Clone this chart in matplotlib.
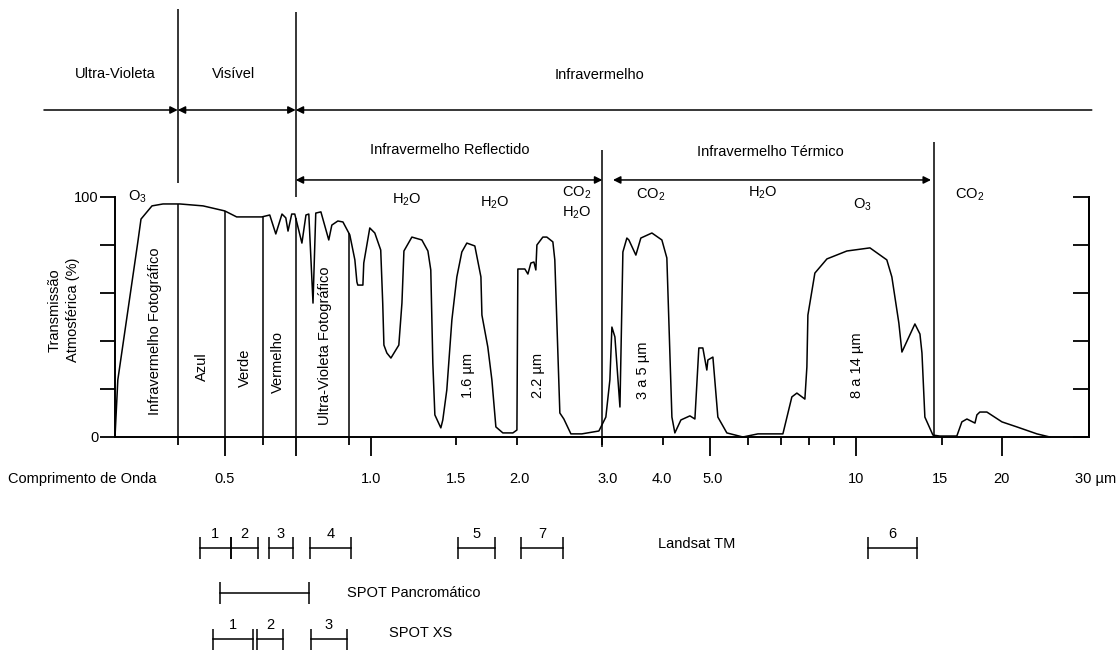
import numpy as np
import matplotlib
matplotlib.use('Agg')
import matplotlib.pyplot as plt
from matplotlib.patches import FancyArrowPatch
from matplotlib.ticker import NullFormatter

plt.rcParams['font.family'] = ['Liberation Sans', 'DejaVu Sans']
plt.rcParams['font.size'] = 10.5
plt.rcParams['mathtext.fontset'] = 'custom'
plt.rcParams['mathtext.rm'] = 'Liberation Sans'
plt.rcParams['mathtext.it'] = 'Liberation Sans'

# Transmissão atmosférica: comprimento de onda (µm) e transmissão (%)
wl = [0.297, 0.301, 0.331, 0.336, 0.354, 0.373, 0.404, 0.451, 0.500, 0.529,
      0.596, 0.619, 0.637, 0.656, 0.668, 0.675, 0.687, 0.697, 0.721, 0.735,
      0.745, 0.760, 0.770, 0.789, 0.819, 0.831, 0.855, 0.876, 0.905, 0.927,
      0.936, 0.940, 0.963, 0.967, 0.995, 1.019, 1.048, 1.058, 1.064, 1.079,
      1.100, 1.142, 1.159, 1.170, 1.215, 1.274, 1.311, 1.329, 1.342, 1.355,
      1.394, 1.407, 1.434, 1.469, 1.504, 1.540, 1.577, 1.638, 1.686, 1.694,
      1.742, 1.776, 1.810, 1.871, 1.962, 2.000, 2.009, 2.077, 2.107, 2.137,
      2.168, 2.188, 2.199, 2.262, 2.305, 2.372, 2.394, 2.452, 2.499, 2.584,
      2.722, 2.951, 3.050, 3.109, 3.139, 3.184, 3.261, 3.307, 3.370, 3.402,
      3.517, 3.601, 3.795, 3.979, 4.074, 4.173, 4.232, 4.355, 4.545, 4.654,
      4.698, 4.742, 4.833, 4.925, 4.950, 5.069, 5.190, 5.416, 5.844, 6.277,
      7.066, 7.373, 7.551, 7.843, 7.918, 7.956, 8.224, 8.708, 9.572, 10.68,
      11.57, 11.85, 12.25, 12.43, 13.22, 13.54, 13.67, 13.86, 14.40, 14.88,
      16.13, 16.52, 16.92, 17.58, 17.74, 17.99, 18.60, 19.98, 21.45, 23.59, 25.08]
trans = [0, 23.8, 81.3, 90.8, 96.3, 97.1, 97.1, 96.3, 94.2, 91.7,
         91.7, 92.5, 84.6, 92.9, 91.3, 85.8, 92.9, 92.9, 80.8, 92.5,
         92.9, 55.8, 93.3, 93.8, 82.1, 88.3, 90.0, 89.6, 84.2, 73.8,
         64.6, 63.3, 63.3, 72.5, 87.1, 85.0, 77.9, 55.8, 38.3, 35.0,
         32.9, 38.3, 55.8, 77.5, 83.3, 82.1, 77.5, 69.6, 30.8, 9.2,
         3.8, 7.1, 19.6, 48.8, 66.7, 77.1, 80.8, 79.6, 66.7, 50.8,
         37.5, 23.8, 4.2, 1.7, 1.7, 2.9, 70.0, 70.0, 67.9, 72.5,
         72.9, 69.6, 80.0, 83.3, 83.3, 81.3, 73.8, 10.0, 7.5, 1.3,
         1.3, 2.5, 8.3, 23.8, 45.8, 41.7, 12.5, 77.1, 82.9, 82.1,
         75.8, 82.9, 85.0, 82.1, 74.6, 8.3, 1.7, 7.1, 8.8, 7.5,
         22.5, 37.1, 37.1, 27.9, 32.1, 33.3, 8.3, 1.7, 0, 1.3,
         1.3, 16.7, 18.3, 15.8, 29.2, 50.8, 68.3, 74.2, 77.5, 78.8,
         73.8, 66.7, 47.5, 35.4, 47.1, 42.9, 35.0, 8.3, 0.8, 0.4,
         0.4, 6.3, 7.5, 5.8, 9.2, 10.4, 10.4, 6.3, 4.2, 1.3, 0]

# limites das bandas dentro da curva
band_edges = [0.4, 0.5, 0.6, 0.7, 0.9]
band_names = ['Infravermelho Fotográfico', 'Azul', 'Verde', 'Vermelho',
              'Ultra-Violeta Fotográfico', '1.6 µm', '2.2 µm', '3 a 5 µm', '8 a 14 µm']
band_name_x = [0.359, 0.448, 0.550, 0.643, 0.804, 1.585, 2.209, 3.636, 10.04]
band_name_y = [44.2, 29.2, 28.8, 31.2, 37.9, 25.8, 25.8, 27.9, 30.0]

# gases absorventes
gases = ['O$_3$', 'H$_2$O', 'H$_2$O', 'CO$_2$', 'H$_2$O', 'CO$_2$', 'H$_2$O', 'O$_3$', 'CO$_2$']
gas_x = [0.331, 1.186, 1.801, 2.659, 2.659, 3.777, 6.427, 10.28, 17.16]
gas_y = [100.0, 98.8, 97.5, 101.7, 93.3, 100.8, 101.7, 96.7, 100.8]

# regiões do espectro
regions = ['Ultra-Violeta', 'Visível', 'Infravermelho', 'Infravermelho Reflectido', 'Infravermelho Térmico']
region_x = [0.298, 0.522, 2.965, 1.455, 6.674]
region_y = [151.3, 151.3, 150.8, 119.6, 118.8]
row1_edges = [0.212, 0.4, 0.7, 30.6]
row2_spans = [(0.7, 3.0), (3.155, 14.27)]
top_lines_x = [0.4, 0.7, 3.0, 14.5]
top_lines_lo = [105.8, 100.0, -4.0, 0.0]
top_lines_hi = [178.3, 177.1, 119.6, 122.9]

# eixo do comprimento de onda
major_ticks = [0.5, 0.7, 1.0, 5.0, 10.0, 20.0]
minor_ticks = [0.4, 0.6, 0.9, 1.5, 2.0, 3.0, 4.0, 6.0, 7.0, 8.0, 9.0, 15.0]
wl_labels = ['0.5', '1.0', '1.5', '2.0', '3.0', '4.0', '5.0', '10', '15', '20', '30 µm']
wl_label_x = [0.5, 1.0, 1.5, 2.02, 3.07, 3.98, 5.06, 10.0, 14.9, 19.9, 31.2]

# bandas dos sensores
tm_names = ['1', '2', '3', '4', '5', '7', '6']
tm_start = [0.444, 0.515, 0.616, 0.749, 1.511, 2.038, 10.57]
tm_end = [0.515, 0.585, 0.691, 0.909, 1.801, 2.488, 13.35]
pan_start, pan_end = 0.488, 0.745
xs_names = ['1', '2', '3']
xs_start = [0.4725, 0.582, 0.752]
xs_end = [0.571, 0.659, 0.892]

fig = plt.figure(figsize=(11.18, 6.5), dpi=100)
ax = fig.add_axes([115 / 1118, 213 / 650, 974 / 1118, 240 / 650])
ax.set_xscale('log')
ax.set_xlim(0.297, 30.2)
ax.set_ylim(0, 100)
lw = 1.1

ax.plot(wl, trans, color='black', lw=lw, clip_on=False)
ax.vlines(band_edges, 0, np.interp(band_edges, wl, trans), color='black', lw=lw)

for s in ['left', 'right', 'bottom']:
    ax.spines[s].set_linewidth(1.4)
ax.spines['top'].set_visible(False)

ax.set_yticks([0, 20, 40, 60, 80, 100])
ax.set_yticklabels(['0', '', '', '', '', '100'])
ax.tick_params(axis='y', direction='out', length=10.8, width=1.3, pad=1, labelsize=10.5)
sec = ax.secondary_yaxis('right')
sec.set_yticks([0, 20, 40, 60, 80, 100])
sec.tick_params(direction='in', length=11.5, width=1.3, labelright=False)
sec.spines['right'].set_linewidth(1.4)

ax.set_xticks(major_ticks)
ax.set_xticks(minor_ticks, minor=True)
ax.xaxis.set_major_formatter(NullFormatter())
ax.xaxis.set_minor_formatter(NullFormatter())
ax.tick_params(axis='x', which='major', direction='out', length=13.7, width=1.3)
ax.tick_params(axis='x', which='minor', direction='out', length=5.8, width=1.3)

for lab, x in zip(wl_labels, wl_label_x):
    ax.text(x, -17.5, lab, ha='center', va='center')
ax.text(0.1786, -17.5, 'Comprimento de Onda', ha='left', va='center')
ax.text(0.233, 52.9, 'Transmissão\nAtmosférica (%)', rotation=90, ha='center', va='center',
        multialignment='center', linespacing=1.45)

for name, x, y in zip(band_names, band_name_x, band_name_y):
    ax.text(x, y, name, rotation=90, ha='center', va='center')
for g, x, y in zip(gases, gas_x, gas_y):
    ax.text(x, y, g, ha='center', va='center')

# linhas e setas das regiões
ax.vlines(top_lines_x, top_lines_lo, top_lines_hi, color='black', lw=lw, clip_on=False)
styles = ['-|>', '<|-|>', '<|-']
for i, st in enumerate(styles):
    ax.add_patch(FancyArrowPatch((row1_edges[i], 136.25), (row1_edges[i + 1], 136.25),
                                 arrowstyle=st, mutation_scale=11, lw=lw, color='black',
                                 shrinkA=0, shrinkB=0, clip_on=False))
for a, b in row2_spans:
    ax.add_patch(FancyArrowPatch((a, 107.1), (b, 107.1), arrowstyle='<|-|>', mutation_scale=11,
                                 lw=lw, color='black', shrinkA=0, shrinkB=0, clip_on=False))
for name, x, y in zip(regions, region_x, region_y):
    ax.text(x, y, name, ha='center', va='center')


def draw_band(s, e, y, label=None):
    ax.plot([s, e], [y, y], color='black', lw=lw, clip_on=False)
    ax.vlines([s, e], y - 4.4, y + 4.4, color='black', lw=lw, clip_on=False)
    if label:
        ax.text(np.sqrt(s * e), y + 5.8, label, ha='center', va='center')


for n, s, e in zip(tm_names, tm_start, tm_end):
    draw_band(s, e, -46.25, n)
draw_band(pan_start, pan_end, -65.0)
for n, s, e in zip(xs_names, xs_start, xs_end):
    draw_band(s, e, -84.2, n)
ax.text(3.905, -44.6, 'Landsat TM', ha='left', va='center')
ax.text(0.892, -65.0, 'SPOT Pancromático', ha='left', va='center')
ax.text(1.089, -81.7, 'SPOT XS', ha='left', va='center')

fig.savefig('out.png', dpi=100)
